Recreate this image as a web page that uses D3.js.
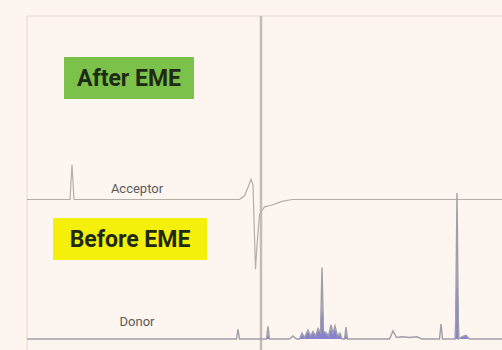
<!DOCTYPE html>
<html>
<head>
<meta charset="utf-8">
<script src="https://cdn.jsdelivr.net/npm/d3@7"></script>
<style>
  html, body { margin: 0; padding: 0; background: #fdf5ef; }
  svg { display: block; }
</style>
</head>
<body>
<svg id="chart" width="502" height="350"></svg>
<script>
// Retention time (min) and signal of the acceptor phase after extraction
const acceptorTime  = [0, 1.72, 1.8, 1.88, 8.5, 8.7, 8.85, 8.96, 9.04, 9.1, 9.14, 9.2, 9.3, 9.5, 9.8, 10.2, 10.6, 19];
const acceptorValue = [0, 0, 19, 0, 0, 2, 7, 11, 8, -20, -38, -25, -8, -4, -3, -1, 0, 0];

// Donor sample before extraction: main trace
const donorTime  = [0, 8.38, 8.44, 8.5, 9.58, 9.64, 9.7, 10.5, 10.64, 10.78,
                    10.9, 11.0, 11.1, 11.24, 11.34, 11.44, 11.54, 11.64, 11.74, 11.8, 11.86, 11.96, 12.06, 12.16, 12.24, 12.32, 12.42, 12.52, 12.6,
                    12.7, 12.76, 12.82, 14.5, 14.64, 14.78, 15.0, 15.3, 15.6, 15.8,
                    16.5, 16.56, 16.62, 17.14, 17.2, 17.26, 17.4, 17.56, 17.7, 19];
const donorValue = [0, 0, 6.5, 0, 0, 8.5, 0, 0, 2, 0,
                    0, 4, 1, 6, 2, 5, 2, 7, 4, 48, 5, 4.5, 2, 9.4, 4, 8.7, 2, 4, 0,
                    0, 8, 0, 0, 5.4, 1, 1.5, 1, 1.5, 0,
                    0, 10, 0, 0, 98, 0, 1.5, 2.5, 0, 0];

// Donor sample before extraction: second (blue) channel
const donorBlueTime  = [0, 9.58, 9.64, 9.7, 10.9, 11.0, 11.1, 11.24, 11.34, 11.44, 11.54, 11.64, 11.72, 11.8, 11.88, 11.96, 12.06, 12.16, 12.24, 12.32, 12.42, 12.52, 12.6,
                        12.7, 12.76, 12.82, 17.1, 17.2, 17.3, 17.4, 17.56, 17.7, 19];
const donorBlueValue = [0, 0, 4, 0, 0, 3.5, 1.5, 5, 2.5, 4.5, 2.5, 5.5, 5, 26, 5, 3.5, 2.5, 7.5, 3.5, 7.5, 2, 3, 0,
                        0, 5, 0, 0, 54, 0, 2, 2.5, 0, 0];

// Injection marker time
const injectionTime = [9.36];

// Panel labels
const panelTitles = ["After EME", "Before EME"];
const traceNames  = ["Acceptor", "Donor"];

const svg = d3.select("#chart");

const x    = d3.scaleLinear().domain([0, 19]).range([27, 502]);
const yAcc = d3.scaleLinear().domain([-82, 100]).range([350, 16]);
const yDon = d3.scaleLinear().domain([0, 100]).range([339, 190]);

// Frame
svg.append("line")
  .attr("x1", x(0)).attr("x2", x(19))
  .attr("y1", yAcc(100)).attr("y2", yAcc(100))
  .attr("stroke", "#ebe2da").attr("stroke-width", 1.5);
svg.append("line")
  .attr("x1", x(0)).attr("x2", x(0))
  .attr("y1", yAcc(100)).attr("y2", 350)
  .attr("stroke", "#ebe2da").attr("stroke-width", 1.5);

// Injection marker
svg.selectAll("line.inj").data(injectionTime).join("line")
  .attr("class", "inj")
  .attr("x1", d => x(d)).attr("x2", d => x(d))
  .attr("y1", yAcc(100)).attr("y2", 350)
  .attr("stroke", "#c2bbb6").attr("stroke-width", 2.5);

// Acceptor trace
const accData = acceptorTime.map((t, i) => [t, acceptorValue[i]]);
svg.append("path")
  .datum(accData)
  .attr("fill", "none")
  .attr("stroke", "#b3aeaa")
  .attr("stroke-width", 1.2)
  .attr("d", d3.line().x(d => x(d[0])).y(d => yAcc(d[1])));

// Donor blue channel (filled)
const blueData = donorBlueTime.map((t, i) => [t, donorBlueValue[i]]);
svg.append("path")
  .datum(blueData)
  .attr("fill", "#5d5bc4")
  .attr("fill-opacity", 0.75)
  .attr("d", d3.area().x(d => x(d[0])).y0(yDon(0)).y1(d => yDon(d[1])));

// Donor main trace
const donData = donorTime.map((t, i) => [t, donorValue[i]]);
svg.append("path")
  .datum(donData)
  .attr("fill", "none")
  .attr("stroke", "#a19eab")
  .attr("stroke-width", 1.4)
  .attr("d", d3.line().x(d => x(d[0])).y(d => yDon(d[1])));

// Panel title badges
const badges = [
  { text: panelTitles[0], cx: 129, cy: 78,  w: 130, h: 42, fill: "#7cc24a" },
  { text: panelTitles[1], cx: 130, cy: 239, w: 154, h: 42, fill: "#f5ef0c" }
];
const g = svg.selectAll("g.badge").data(badges).join("g").attr("class", "badge");
g.append("rect")
  .attr("x", d => d.cx - d.w / 2).attr("y", d => d.cy - d.h / 2)
  .attr("width", d => d.w).attr("height", d => d.h)
  .attr("fill", d => d.fill);
g.append("text")
  .attr("x", d => d.cx).attr("y", d => d.cy)
  .attr("text-anchor", "middle").attr("dominant-baseline", "central")
  .attr("font-family", "Roboto, sans-serif")
  .attr("font-weight", 700)
  .attr("font-size", 23)
  .attr("fill", "#1f2a14")
  .text(d => d.text);

// Trace names
svg.selectAll("text.trace").data([
  { text: traceNames[0], cy: 188 },
  { text: traceNames[1], cy: 321 }
]).join("text")
  .attr("class", "trace")
  .attr("x", 137).attr("y", d => d.cy)
  .attr("text-anchor", "middle").attr("dominant-baseline", "central")
  .attr("font-family", "Roboto, sans-serif")
  .attr("font-size", 13)
  .attr("fill", "#5a5a5a")
  .text(d => d.text);
</script>
</body>
</html>
